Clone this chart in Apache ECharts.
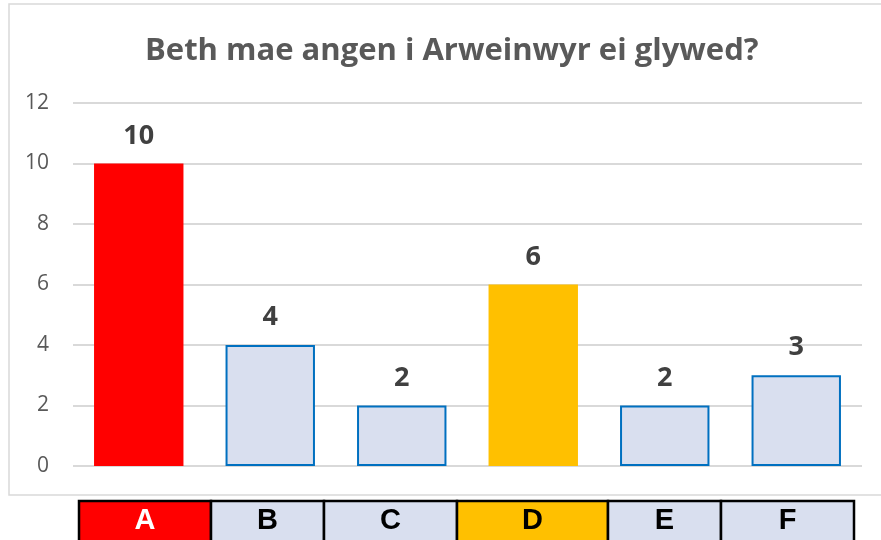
<!DOCTYPE html>
<html>
<head>
<meta charset="utf-8">
<script src="https://cdn.jsdelivr.net/npm/echarts@6/dist/echarts.min.js"></script>
<style>
  html, body { margin: 0; padding: 0; background: #fff; }
  #chart { width: 881px; height: 540px; }
</style>
</head>
<body>
<div id="chart"></div>
<script>
// Responses per category
const categories = ['A', 'B', 'C', 'D', 'E', 'F'];
const values = [10, 4, 2, 6, 2, 3];
const yMin = 0, yMax = 12, yStep = 2;

const titleText = 'Beth mae angen i Arweinwyr ei glywed?';

// Fill colours for the highlighted categories; the rest share the pale style
const highlight = { A: '#FF0000', D: '#FFC000' };
const paleFill = '#D9DFEF';
const paleBorder = '#0070C0';

// Column edges of the category strip under the plot
const stripEdges = [79, 211, 324, 457, 608, 721, 854];
const stripTop = 501;
const stripHeight = 50;

const chart = echarts.init(document.getElementById('chart'));

const barData = values.map((v, i) => {
  const c = categories[i];
  const hl = highlight[c];
  return {
    value: v,
    itemStyle: hl
      ? { color: hl, borderWidth: 0 }
      : { color: paleFill, borderColor: paleBorder, borderWidth: 2 }
  };
});

const strip = [];
categories.forEach((c, i) => {
  const x0 = stripEdges[i], x1 = stripEdges[i + 1];
  const hl = highlight[c];
  strip.push({
    type: 'rect',
    shape: { x: x0, y: stripTop, width: x1 - x0, height: stripHeight },
    style: { fill: hl || paleFill, stroke: '#000', lineWidth: 2.5 },
    z: 10
  });
  strip.push({
    type: 'text',
    x: (x0 + x1) / 2,
    y: 521,
    style: {
      text: c,
      fill: c === 'A' ? '#fff' : '#000',
      font: 'bold 29px "Liberation Sans", Arial, sans-serif',
      align: 'center',
      verticalAlign: 'middle'
    },
    z: 11
  });
});

chart.setOption({
  animation: false,
  backgroundColor: '#fff',
  title: {
    text: titleText,
    left: 140,
    top: 25,
    textStyle: {
      fontFamily: '"Open Sans", sans-serif',
      fontWeight: 'bold',
      fontSize: 31,
      color: '#595959',
      lineHeight: 42
    }
  },
  grid: { left: 73, right: 19, top: 103, bottom: 74 },
  xAxis: {
    type: 'category',
    data: categories,
    axisLine: { show: false },
    axisTick: { show: false },
    axisLabel: { show: false }
  },
  yAxis: {
    type: 'value',
    min: yMin,
    max: yMax,
    interval: yStep,
    axisLine: { show: false },
    axisTick: { show: false },
    axisLabel: {
      margin: 24,
      fontFamily: '"Open Sans", sans-serif',
      fontSize: 21,
      color: '#595959'
    },
    splitLine: { lineStyle: { color: '#D9D9D9', width: 2 } }
  },
  series: [{
    type: 'bar',
    data: barData,
    barWidth: '68%',
    label: {
      show: true,
      position: 'top',
      distance: 14,
      fontFamily: '"Open Sans", sans-serif',
      fontWeight: 'bold',
      fontSize: 27,
      color: '#404040'
    }
  }],
  graphic: [
    {
      type: 'rect',
      shape: { x: 9, y: 4, width: 880, height: 491 },
      style: { fill: 'none', stroke: '#D9D9D9', lineWidth: 1.5 },
      z: -1
    }
  ].concat(strip)
});
</script>
</body>
</html>
